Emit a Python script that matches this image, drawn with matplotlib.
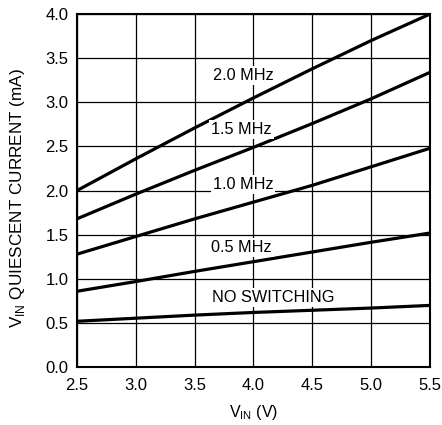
import matplotlib
matplotlib.use('Agg')
from matplotlib import pyplot as plt

plt.rcParams['font.family'] = ['Liberation Sans', 'DejaVu Sans']

# Supply voltage (V) and quiescent current (mA).
vin = [2.5, 3.0, 3.5, 4.0, 4.5, 5.0, 5.5]
i_2mhz = [2.00, 2.36, 2.71, 3.05, 3.38, 3.70, 4.00]
i_1p5mhz = [1.68, 1.96, 2.23, 2.49, 2.76, 3.04, 3.34]
i_1mhz = [1.28, 1.48, 1.68, 1.87, 2.06, 2.27, 2.48]
i_0p5mhz = [0.86, 0.97, 1.085, 1.195, 1.305, 1.415, 1.52]
i_noswitch = [0.52, 0.555, 0.59, 0.62, 0.645, 0.67, 0.70]

series = [i_2mhz, i_1p5mhz, i_1mhz, i_0p5mhz, i_noswitch]
labels = ['2.0 MHz', '1.5 MHz', '1.0 MHz', '0.5 MHz', 'NO SWITCHING']
label_x = [3.91, 3.90, 3.91, 3.90, 3.65]
label_y = [3.30, 2.69, 2.07, 1.36, 0.79]
label_ha = ['center', 'center', 'center', 'center', 'left']

fig = plt.figure(figsize=(4.42, 4.25), dpi=100)
ax = fig.add_axes([0.174, 0.136, 0.799, 0.831])

for ys in series:
    ax.plot(vin, ys, color='black', lw=2.3, solid_capstyle='butt', zorder=3)

for txt, x, y, ha in zip(labels, label_x, label_y, label_ha):
    ax.text(x, y, txt, fontsize=11.7, ha=ha, va='center', zorder=4,
            bbox=dict(facecolor='white', edgecolor='none', pad=1.5))

ax.set_xlim(2.5, 5.5)
ax.set_ylim(0, 4.0)
ax.set_xticks([2.5, 3.0, 3.5, 4.0, 4.5, 5.0, 5.5])
ax.set_yticks([0.0, 0.5, 1.0, 1.5, 2.0, 2.5, 3.0, 3.5, 4.0])
ax.set_xticklabels(['%.1f' % v for v in ax.get_xticks()])
ax.set_yticklabels(['%.1f' % v for v in ax.get_yticks()])
ax.grid(True, color='black', lw=0.9)
ax.set_axisbelow(True)
ax.tick_params(length=0, labelsize=12)
ax.tick_params(axis='x', pad=8)
ax.tick_params(axis='y', pad=6)
for s in ax.spines.values():
    s.set_linewidth(1.5)

ax.set_xlabel(r'V$_{\mathregular{IN}}$ (V)', fontsize=11.5, labelpad=7)
ax.set_ylabel(r'V$_{\mathregular{IN}}$ QUIESCENT CURRENT (mA)', fontsize=12.3, labelpad=3)
ax.yaxis.set_label_coords(-0.14, 0.478)

plt.savefig('out.png', dpi=100)
